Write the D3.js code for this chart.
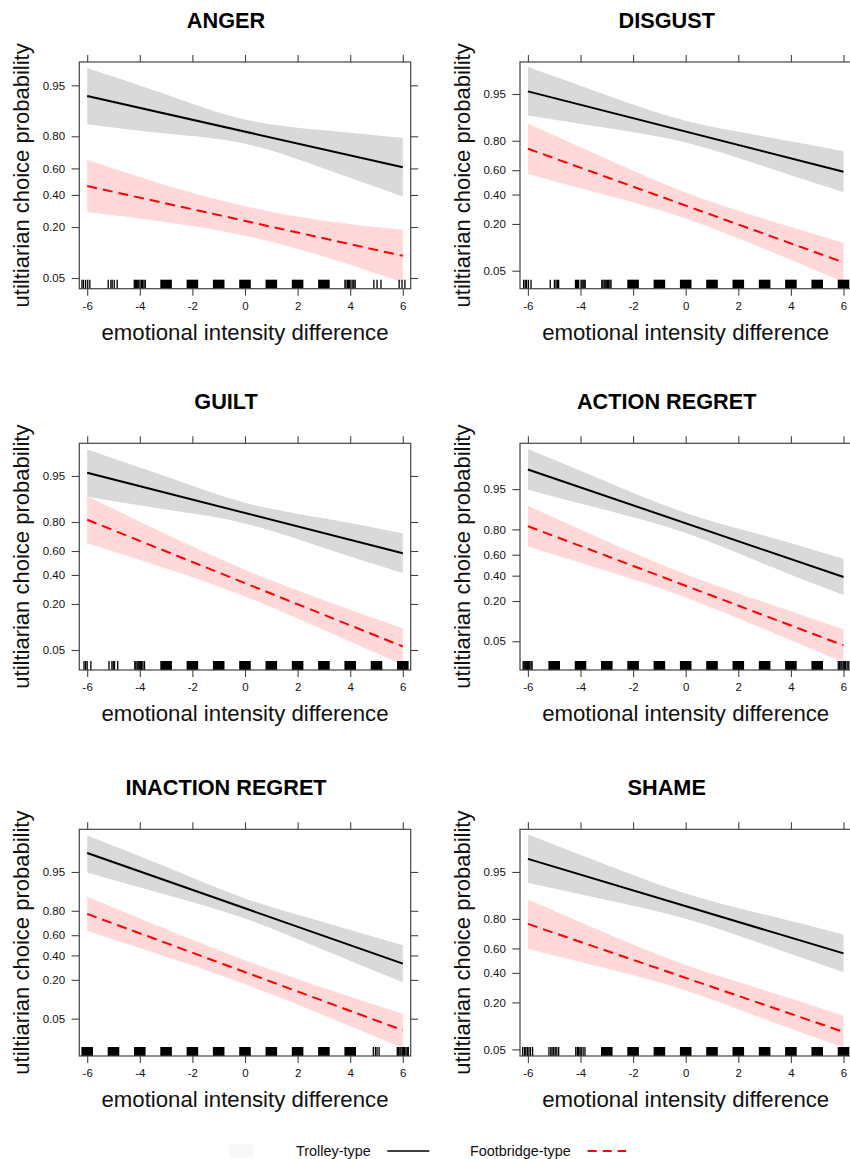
<!DOCTYPE html>
<html><head><meta charset="utf-8">
<script src="https://cdn.jsdelivr.net/npm/d3@7"></script>
<style>body{margin:0;background:#fff}text{font-family:"Liberation Sans",Arial,sans-serif}</style>
</head><body><svg id="c" width="850" height="1159"></svg>
<script>
// ---------- data ----------
const panels = ["ANGER","DISGUST","GUILT","ACTION REGRET","INACTION REGRET","SHAME"];
const lineX = [-6, 6];
const bandX = [-6, -3, 0, 3, 6];
const xTicks = [-6, -4, -2, 0, 2, 4, 6];
const yTicks = [0.05, 0.20, 0.40, 0.60, 0.80, 0.95];
const seriesNames = ["Trolley-type", "Footbridge-type"];
const xTitle = "emotional intensity difference";
const yTitle = "utiltiarian choice probability";

// fitted probabilities at x = -6 and 6
const trolleyFit = [[0.932,0.608],[0.954,0.588],[0.955,0.581],[0.976,0.387],[0.976,0.324],[0.967,0.560]];
const footFit    = [[0.467,0.094],[0.754,0.065],[0.812,0.056],[0.819,0.043],[0.779,0.032],[0.772,0.086]];
// confidence bands at x = -6,-3,0,3,6
const trolleyLower = [[0.853,0.813,0.761,0.599,0.389],[0.903,0.860,0.791,0.629,0.418],[0.904,0.859,0.792,0.625,0.416],
                      [0.949,0.893,0.776,0.510,0.239],[0.949,0.884,0.746,0.453,0.185],[0.930,0.882,0.801,0.629,0.404]];
const trolleyUpper = [[0.970,0.935,0.870,0.828,0.791],[0.979,0.948,0.886,0.822,0.739],[0.979,0.949,0.885,0.819,0.731],
                      [0.989,0.962,0.883,0.758,0.562],[0.988,0.959,0.868,0.717,0.500],[0.985,0.960,0.903,0.822,0.705]];
const footLower = [[0.283,0.226,0.161,0.092,0.044],[0.570,0.394,0.231,0.098,0.035],[0.661,0.453,0.244,0.094,0.031],
                   [0.673,0.443,0.223,0.077,0.023],[0.639,0.387,0.174,0.057,0.016],[0.596,0.435,0.271,0.126,0.053]];
const footUpper = [[0.661,0.473,0.321,0.233,0.187],[0.877,0.685,0.416,0.228,0.118],[0.906,0.725,0.443,0.221,0.099],
                   [0.909,0.717,0.413,0.192,0.077],[0.875,0.655,0.354,0.153,0.060],[0.884,0.711,0.463,0.273,0.138]];
// y-axis limits (probability), bottom and top
const yLimits = [[0.03658,0.97484],[0.02809,0.98221],[0.02606,0.98286],[0.01701,0.99114],[0.01163,0.99059],[0.04050,0.98739]];
// rug: integer values with dense observations, and individual observed values
const rugSolid = [
  [-3,-2,-1,0,1,2,3],
  [-2,-1,0,1,2,3,4,5,6],
  [-3,-2,-1,0,1,2,3,4,5,6],
  [-5,-4,-3,-2,-1,0,1,2,3,4,5],
  [-6,-5,-4,-3,-2,-1,0,1,2,3,4],
  [-3,-2,-1,0,1,2,3,4,5,6]
];
const rugLines = [
  [-6.2,-6.14,-6.06,-5.98,-5.9,-5.2,-5.1,-5.05,-4.97,-4.86,
   -4.21,-4.17,-4.13,-4.08,-4.04,-3.99,-3.93,-3.89,-3.84,-3.79,
   3.8,3.84,3.9,3.94,3.98,4.03,4.1,4.14,4.19,4.9,5.02,5.17,5.86,5.97,6.08],
  [-6.16,-6.1,-6.05,-5.98,-5.88,-5.15,-4.99,-4.93,-4.88,-4.83,
   -4.19,-4.15,-4.11,-4.07,-3.98,-3.94,-3.9,-3.86,-3.82,
   -3.19,-3.15,-3.1,-3.06,-3.02,-2.97,-2.93,-2.88,-2.84],
  [-6.12,-6.06,-6.0,-5.86,-5.17,-5.06,-5.01,-4.96,-4.84,
   -4.19,-4.15,-4.1,-4.06,-4.02,-3.97,-3.93,-3.88,-3.82],
  [-6.18,-6.14,-6.1,-6.06,-6.02,-5.97,-5.93,-5.88,-5.84,
   5.8,5.85,5.9,5.94,5.99,6.03,6.08,6.14,6.2],
  [4.88,4.96,5.02,5.1,5.79,5.84,5.89,5.93,5.98,6.02,6.07,6.12,6.17,6.21],
  [-6.2,-6.13,-6.08,-6.02,-5.96,-5.9,-5.82,-5.2,-5.13,-5.08,-5.02,-4.96,-4.9,-4.83,
   -4.18,-4.12,-4.07,-4.02,-3.97,-3.9,-3.83]
];

// ---------- layout ----------
const colLeft = [79.3, 520];
const rowTop = [62, 443.3, 829.3];
const boxW = 331.4, boxH = 226.7;
const xPad = 0.3;

const logit = p => Math.log(p / (1 - p));
const invlogit = l => 1 / (1 + Math.exp(-l));

const svg = d3.select("#c");
svg.append("rect").attr("width", 850).attr("height", 1159).attr("fill", "#fff");

panels.forEach((name, i) => {
  const col = i % 2, row = Math.floor(i / 2);
  const L = colLeft[col], T = rowTop[row];
  const g = svg.append("g").attr("transform", `translate(${L},${T})`);

  const x = d3.scaleLinear().domain([-6 - xPad, 6 + xPad]).range([0, boxW]);
  const y = d3.scaleLinear().domain([logit(yLimits[i][0]), logit(yLimits[i][1])]).range([boxH, 0]);

  const clipId = "clip" + i;
  g.append("clipPath").attr("id", clipId).append("rect").attr("width", boxW).attr("height", boxH);
  const plot = g.append("g").attr("clip-path", `url(#${clipId})`);

  const area = d3.area()
    .x(d => x(d.x)).y0(d => y(logit(d.lo))).y1(d => y(logit(d.hi)))
    .curve(d3.curveNatural);
  const line = d3.line().x(d => x(d.x)).y(d => y(logit(d.p)));

  const series = [
    {lo: trolleyLower[i], hi: trolleyUpper[i], fit: trolleyFit[i], band: "#d9d9d9", col: "#000", dash: null},
    {lo: footLower[i], hi: footUpper[i], fit: footFit[i], band: "#ffd9d9", col: "#ff0000", dash: "10,6"}
  ];
  series.forEach(s => {
    plot.append("path")
      .datum(bandX.map((bx, k) => ({x: bx, lo: s.lo[k], hi: s.hi[k]})))
      .attr("d", area).attr("fill", s.band).attr("stroke", "none");
  });
  series.forEach(s => {
    plot.append("path")
      .datum(lineX.map((lx, k) => ({x: lx, p: s.fit[k]})))
      .attr("d", line).attr("fill", "none").attr("stroke", s.col)
      .attr("stroke-width", 2).attr("stroke-dasharray", s.dash);
  });

  // rug
  const rugH = 9;
  plot.selectAll("rect.rs").data(rugSolid[i]).enter().append("rect")
    .attr("x", d => x(d - 0.22)).attr("width", d => x(d + 0.22) - x(d - 0.22))
    .attr("y", boxH - rugH).attr("height", rugH).attr("fill", "#000");
  plot.selectAll("line.rl").data(rugLines[i]).enter().append("line")
    .attr("x1", d => x(d)).attr("x2", d => x(d))
    .attr("y1", boxH - rugH).attr("y2", boxH)
    .attr("stroke", "#000").attr("stroke-width", 1.3);

  // box
  g.append("rect").attr("width", boxW).attr("height", boxH)
    .attr("fill", "none").attr("stroke", "#444").attr("stroke-width", 1.2);

  // axes
  const fmt = d3.format(".2f");
  const yl = g.append("g").call(d3.axisLeft(y).tickValues(yTicks.map(logit))
      .tickFormat(l => fmt(invlogit(l))).tickSize(7.7).tickPadding(6.5));
  const yr = g.append("g").attr("transform", `translate(${boxW},0)`)
    .call(d3.axisRight(y).tickValues(yTicks.map(logit)).tickFormat("").tickSize(7.5));
  const xb = g.append("g").attr("transform", `translate(0,${boxH})`)
    .call(d3.axisBottom(x).tickValues(xTicks).tickFormat(d3.format("d")).tickSize(7).tickPadding(6));
  const xt = g.append("g")
    .call(d3.axisTop(x).tickValues(xTicks).tickFormat("").tickSize(7));
  [yl, yr, xb, xt].forEach(a => {
    a.select(".domain").remove();
    a.selectAll(".tick line").attr("stroke", "#444").attr("stroke-width", 1.1);
    a.selectAll("text").attr("font-size", 11.5).attr("fill", "#111")
      .attr("font-family", '"Liberation Sans", Arial, sans-serif');
  });
  xb.selectAll("text").text(d => d3.format("d")(d).replace("−", "-"));

  // titles
  g.append("text").attr("x", boxW / 2 - 19).attr("y", -34.5)
    .attr("text-anchor", "middle").attr("font-weight", "bold").attr("font-size", 21.7)
    .attr("fill", "#000").text(name);
  g.append("text").attr("x", boxW / 2).attr("y", boxH + 51.3)
    .attr("text-anchor", "middle").attr("font-size", 22.2).attr("fill", "#111").text(xTitle);
  g.append("text").attr("transform", `translate(-50.5,${boxH / 2}) rotate(-90)`)
    .attr("text-anchor", "middle").attr("font-size", 22).attr("fill", "#111").text(yTitle);
});

// legend
const leg = svg.append("g");
leg.append("rect").attr("x", 229).attr("y", 1144).attr("width", 24).attr("height", 13).attr("fill", "#f8f8f8");
leg.append("text").attr("x", 296).attr("y", 1156).attr("font-size", 14.4).attr("fill", "#111").text(seriesNames[0]);
leg.append("line").attr("x1", 387.3).attr("x2", 429.3).attr("y1", 1151).attr("y2", 1151)
  .attr("stroke", "#000").attr("stroke-width", 1.6);
leg.append("text").attr("x", 470).attr("y", 1156).attr("font-size", 14.4).attr("fill", "#111").text(seriesNames[1]);
leg.append("line").attr("x1", 587.7).attr("x2", 626).attr("y1", 1151).attr("y2", 1151)
  .attr("stroke", "#ff0000").attr("stroke-width", 1.8).attr("stroke-dasharray", "9,6");
</script></body></html>
